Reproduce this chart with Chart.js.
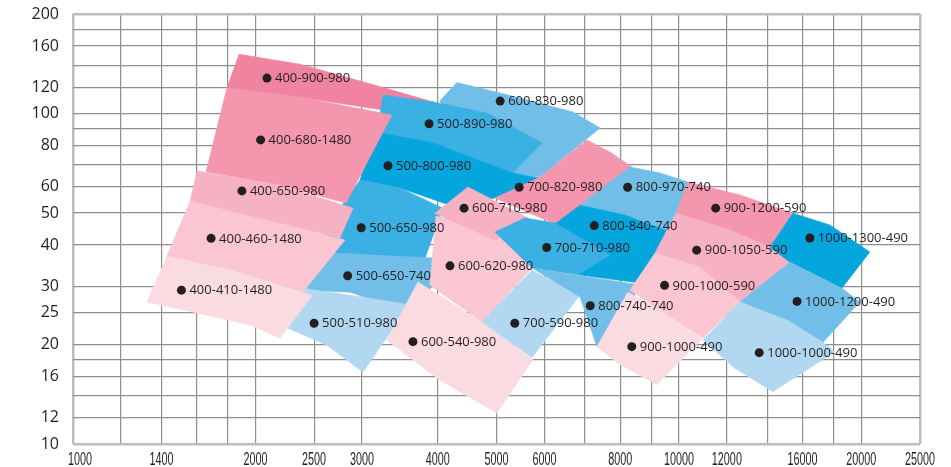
<!DOCTYPE html>
<html>
<head>
<meta charset="utf-8">
<script src="https://cdn.jsdelivr.net/npm/chart.js@4.4.0/dist/chart.umd.min.js"></script>
<style>
  html, body { margin: 0; padding: 0; background: #fff; }
  #wrap { width: 951px; height: 467px; position: relative; }
</style>
</head>
<body>
<div id="wrap"><canvas id="chart"></canvas></div>
<script>
// grid lines and labelled ticks
const xTicks = [1000, 1200, 1400, 1600, 1800, 2000, 2500, 3000, 4000, 5000, 6000, 7000, 8000, 9000,
                10000, 12000, 14000, 16000, 18000, 20000, 25000];
const xLabels = [1000, 1400, 2000, 2500, 3000, 4000, 5000, 6000, 8000, 10000, 12000, 16000, 20000, 25000];
const yTicks = [10, 12, 14, 16, 18, 20, 25, 30, 40, 50, 60, 70, 80, 90, 100, 120, 140, 160, 180, 200];
const yLabels = [10, 12, 16, 20, 25, 30, 40, 50, 60, 80, 100, 120, 160, 200];

// pump models: duty point (flow, head)
const pumpNames = ['400-900-980', '400-680-1480', '400-650-980', '400-460-1480', '400-410-1480',
  '500-890-980', '500-800-980', '500-650-980', '500-650-740', '500-510-980',
  '600-830-980', '600-710-980', '600-620-980', '600-540-980',
  '700-820-980', '700-710-980', '700-590-980',
  '800-970-740', '800-840-740', '800-740-740',
  '900-1200-590', '900-1050-590', '900-1000-590', '900-1000-490',
  '1000-1300-490', '1000-1200-490', '1000-1000-490'];
const pumpQ = [2090, 2040, 1900, 1690, 1510,
  3870, 3310, 2990, 2840, 2500,
  5070, 4420, 4190, 3640,
  5450, 6050, 5360,
  8230, 7250, 7140,
  11500, 10700, 9470, 8360,
  16450, 15670, 13570];
const pumpH = [128, 83.2, 58.3, 41.9, 29.2,
  93.1, 69.5, 45.1, 32.3, 23.2,
  109, 51.7, 34.6, 20.4,
  59.8, 39.3, 23.2,
  59.8, 45.8, 26.2,
  51.7, 38.6, 30.2, 19.7,
  42.0, 27.0, 18.9];

// working ranges, outline corners (flow / head), back to front
const regionQ = [
  [4300, 5070, 6690, 7410, 5900, 5320, 4350, 4030],          // 600-830-980
  [1880, 2370, 3090, 3990, 3880, 3250, 2370, 1795],          // 400-900-980
  [3250, 3930, 4820, 5940, 5320, 3930, 3175],                // 500-890-980
  [3175, 3930, 5320, 5900, 4970, 4190, 3464, 2976],          // 500-800-980
  [2976, 3464, 4080, 3810, 3091, 2537, 2706],                // 500-650-980
  [2537, 3091, 4033, 3912, 3531, 2865, 2396],                // 500-650-740
  [2396, 2865, 3598, 3273, 3010, 2625, 2264],                // 500-510-980
  [1795, 2370, 3360, 2822, 2196, 1658],                      // 400-680-1480
  [1603, 2196, 2898, 2758, 2074, 1560],                      // 400-650-980
  [1560, 2074, 2811, 2396, 1816, 1429],                      // 400-460-1480
  [1429, 1816, 2480, 2196, 1960, 1603, 1325],                // 400-410-1480
  [5900, 7050, 7694, 8365, 6865, 6243, 4970],                // 700-820-980
  [3972, 5065, 5720, 4731, 3882],                            // 600-620-980
  [4486, 5634, 4970, 3957],                                  // 600-710-980
  [3710, 4731, 5742, 5007, 4033, 3297],                      // 600-540-980
  [4731, 5720, 6865, 5720],                                  // 700-590-980
  [8302, 9304, 10350, 9664, 8145, 6865],                     // 800-970-740
  [6865, 8145, 9664, 8623, 6813, 6243],                      // 800-840-740
  [4970, 5570, 6243, 7694, 6813, 5720],                      // 700-710-980
  [5720, 6865, 8623, 8145, 7323, 6865],                      // 800-740-740
  [10350, 12610, 15425, 14130, 12140, 9889],                 // 900-1200-590
  [9889, 12140, 14130, 15250, 12610, 10830, 9129],           // 900-1050-590
  [9129, 10830, 12610, 10955, 9304, 8302],                   // 900-1000-590
  [8239, 9304, 10955, 9198, 7992, 7323, 7842],               // 900-1000-490
  [15425, 17750, 20660, 18580, 15250, 14130],                // 1000-1300-490
  [15250, 18580, 19890, 17290, 15080, 12610],                // 1000-1200-490
  [12610, 15080, 17290, 18090, 14290, 12370, 10955]          // 1000-1000-490
];
const regionH = [
  [124, 115.4, 101, 90.4, 64.2, 66.1, 89.1, 109],
  [151, 141, 123, 107.5, 92.3, 102.4, 112, 119.5],
  [113.8, 108.3, 100.3, 81.5, 66.1, 81.5, 87.9],
  [87.9, 81.5, 66.1, 63.8, 55.5, 52.8, 59.5, 62.9],
  [62.9, 59.5, 51.7, 36.5, 37.3, 38.1, 49.3],
  [38.1, 37.3, 36.5, 29.8, 25.4, 28.8, 29.2],
  [29.6, 28.2, 26.4, 20.6, 16.5, 19.9, 22.4],
  [119.5, 112.1, 98.9, 53.6, 60.7, 66.6],
  [67.0, 60.7, 51.7, 42.0, 47.6, 54.3],
  [54.3, 47.6, 41.4, 28.8, 33.6, 37.0],
  [37.0, 33.6, 28.1, 20.9, 22.9, 24.9, 26.9],
  [64.2, 83.2, 76.5, 68.9, 52.8, 46.3, 55.5],
  [48.95, 43.8, 34.1, 23.4, 30.3],
  [59.9, 48.3, 41.4, 49.9],
  [30.9, 23.4, 18.0, 12.4, 15.6, 20.6],
  [23.4, 33.6, 28.2, 18.25],
  [68.9, 66.1, 62.0, 43.8, 49.3, 52.8],
  [52.8, 49.3, 43.8, 30.7, 32.5, 46.3],
  [43.8, 48.3, 46.6, 37.3, 32.5, 34.1],
  [34.1, 32.3, 30.3, 24.6, 19.7, 27.9],
  [62.0, 56.7, 49.9, 39.4, 44.4, 49.9],
  [49.9, 44.4, 39.4, 35.5, 26.9, 34.3, 37.8],
  [37.8, 34.3, 26.9, 20.9, 25.4, 29.2],
  [28.8, 25.4, 20.9, 15.1, 17.4, 19.7, 24.6],
  [49.9, 46.0, 38.1, 29.6, 35.5, 39.4],
  [35.5, 29.6, 26.9, 20.3, 23.7, 26.9],
  [26.9, 23.7, 20.3, 19.0, 14.4, 16.95, 20.6]
];
const regionShade = ['B3', 'P1', 'B2', 'B1', 'B2', 'B3', 'B4', 'P2', 'P3', 'P4', 'P5',
  'P2', 'P4', 'P3', 'P5', 'B4', 'B3', 'B1', 'B2', 'B3',
  'P2', 'P3', 'P4', 'P5', 'B1', 'B3', 'B4'];

const palette = {
  P1: '#f0839f', P2: '#f396ae', P3: '#f6b1c3', P4: '#f9c6d2', P5: '#fbdbe2',
  B1: '#05a6de', B2: '#3bb0e3', B3: '#71bee8', B4: '#b2d8f1'
};
const ink = '#231f20';

let data_set = [];
regionQ.forEach(function (qs, i) {
  data_set.push({
    region: true,
    data: qs.map((q, k) => ({x: q, y: regionH[i][k]})),
    backgroundColor: palette[regionShade[i]],
    pointRadius: 0,
    showLine: false
  });
});
data_set.push({
  data: pumpQ.map((q, i) => ({x: q, y: pumpH[i]})),
  backgroundColor: ink,
  borderWidth: 0,
  pointRadius: 4.5
});

// fills each outline through its points as placed by the scales
const regionFill = {
  id: 'regionFill',
  beforeDatasetsDraw(chart) {
    const ctx = chart.ctx;
    chart.data.datasets.forEach(function (ds, i) {
      if (!ds.region) return;
      const pts = chart.getDatasetMeta(i).data;
      ctx.save();
      ctx.beginPath();
      pts.forEach((p, k) => k ? ctx.lineTo(p.x, p.y) : ctx.moveTo(p.x, p.y));
      ctx.closePath();
      ctx.fillStyle = ds.backgroundColor;
      ctx.strokeStyle = ds.backgroundColor;
      ctx.lineWidth = 0.6;
      ctx.fill();
      ctx.stroke();
      ctx.restore();
    });
  },
  afterDatasetsDraw(chart) {
    const ctx = chart.ctx;
    const meta = chart.getDatasetMeta(chart.data.datasets.length - 1);
    ctx.save();
    ctx.fillStyle = ink;
    ctx.font = '13px "Open Sans"';
    ctx.textAlign = 'left';
    ctx.textBaseline = 'middle';
    meta.data.forEach((p, k) => ctx.fillText(pumpNames[k], p.x + 8, p.y + 0.5));
    ctx.restore();
  },
  afterDraw(chart) {
    // narrow figures under the flow axis
    const ctx = chart.ctx;
    const sx = chart.scales.x;
    ctx.save();
    ctx.fillStyle = ink;
    ctx.font = '18px "Liberation Sans"';
    ctx.textBaseline = 'alphabetic';
    xLabels.forEach(function (v, k) {
      ctx.save();
      if (k === 0) {
        ctx.translate(sx.getPixelForValue(v) - 5, 465);
        ctx.textAlign = 'left';
      } else {
        ctx.translate(sx.getPixelForValue(v), 465);
        ctx.textAlign = 'center';
      }
      ctx.scale(0.6, 1);
      ctx.fillText(String(v), 0, 0);
      ctx.restore();
    });
    ctx.restore();
  }
};

const edge = (c, lo, hi) => c.tick && (c.tick.value === lo || c.tick.value === hi);

new Chart(document.getElementById('chart'), {
  type: 'scatter',
  data: { datasets: data_set },
  options: {
    responsive: true,
    maintainAspectRatio: false,
    animation: false,
    events: [],
    layout: { padding: { top: 14, right: 31, left: 0, bottom: 0 } },
    plugins: { legend: { display: false }, tooltip: { enabled: false } },
    scales: {
      x: {
        type: 'logarithmic', min: 1000, max: 25000,
        afterBuildTicks: ax => { ax.ticks = xTicks.map(v => ({value: v})); },
        afterFit: ax => {
          ax.height = 23;
          ax.paddingLeft = 0; ax.paddingRight = 0;
        },
        ticks: { display: false },
        grid: {
          drawTicks: false,
          color: c => edge(c, 1000, 25000) ? '#bdbdbd' : '#8e8e8e',
          lineWidth: c => edge(c, 1000, 25000) ? 2.5 : 1.2
        },
        border: { display: false }
      },
      y: {
        type: 'logarithmic', min: 10, max: 200,
        afterBuildTicks: ax => { ax.ticks = yTicks.map(v => ({value: v})); },
        afterFit: ax => {
          ax.width = 73;
          ax.paddingTop = 0; ax.paddingBottom = 0;
        },
        ticks: {
          autoSkip: false,
          padding: 14,
          color: ink,
          font: { family: 'Open Sans', size: 16 },
          callback: v => yLabels.includes(v) ? String(v) : ''
        },
        grid: {
          drawTicks: false,
          color: c => edge(c, 10, 200) ? '#bdbdbd' : '#8e8e8e',
          lineWidth: c => edge(c, 10, 200) ? 2.5 : 1.2
        },
        border: { display: false }
      }
    }
  },
  plugins: [regionFill]
});
</script>
</body>
</html>
